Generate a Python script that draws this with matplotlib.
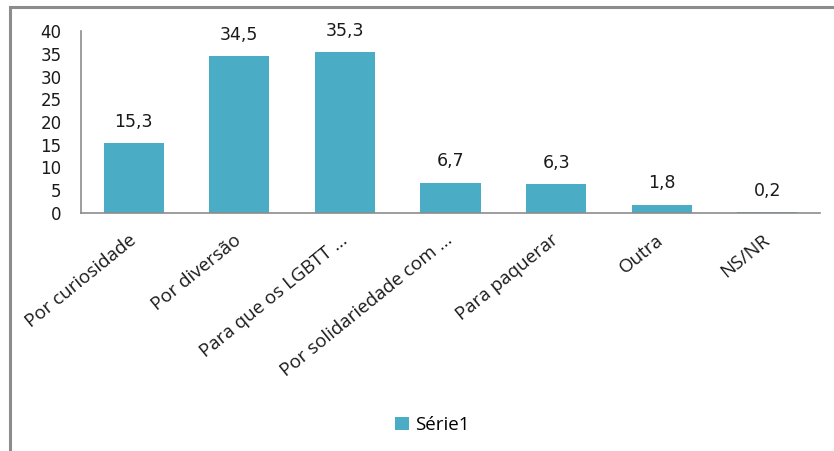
import matplotlib
matplotlib.use("Agg")
import matplotlib.pyplot as plt
import matplotlib.patches as pat

# chart data
categories = ["Por curiosidade", "Por diversão", "Para que os LGBTT ...",
              "Por solidariedade com ...", "Para paquerar", "Outra", "NS/NR"]
values = [15.3, 34.5, 35.3, 6.7, 6.3, 1.8, 0.2]
y_ticks = [0, 5, 10, 15, 20, 25, 30, 35, 40]
series_name = "Série1"

# drawing setting
bar_color = "#4BACC6"
axis_color = "#8c8c8c"
label_font = ["Open Sans", "DejaVu Sans"]

fig = plt.figure(figsize=(8.34, 4.51), dpi=100)
ax = fig.add_axes([81 / 834, 1 - 213 / 451, (820 - 81) / 834, (213 - 31) / 451])

x = list(range(len(categories)))
bars = ax.bar(x, values, width=0.57, color=bar_color, label=series_name)

# value labels above each bar, with comma decimal
for rect, v in zip(bars, values):
    ax.annotate(f"{v:.1f}".replace(".", ","),
                xy=(rect.get_x() + rect.get_width() / 2, rect.get_height()),
                xytext=(0, 9), textcoords="offset points",
                ha="center", va="bottom", fontsize=12.5, color="#1a1a1a")

ax.set_xlim(-0.5, len(categories) - 0.5)
ax.set_ylim(0, 40)
ax.set_yticks(y_ticks)
ax.set_yticklabels([str(t) for t in y_ticks], fontsize=12, color="#1a1a1a")
ax.set_xticks(x)
ax.set_xticklabels(categories, rotation=39, ha="right", va="center",
                   rotation_mode="anchor", fontsize=13.5, family=label_font,
                   color="#1a1a1a")
ax.tick_params(axis="y", length=0, pad=14)
ax.tick_params(axis="x", length=0, pad=18)

for side in ["top", "right"]:
    ax.spines[side].set_visible(False)
for side in ["left", "bottom"]:
    ax.spines[side].set_color(axis_color)
    ax.spines[side].set_linewidth(1.2)

leg = ax.legend(loc="center", bbox_to_anchor=(432 / 834, 1 - 425 / 451),
                bbox_transform=fig.transFigure, frameon=False,
                handlelength=0.75, handleheight=0.75, handletextpad=0.3,
                prop={"family": label_font, "size": 13.5})

# outer chart frame (right and bottom edges are cut off in the reference)
frame = pat.Rectangle((10 / 834, -0.1), 1.2, 1.1 - 7 / 451,
                      transform=fig.transFigure, fill=False,
                      edgecolor=axis_color, linewidth=2.2)
fig.add_artist(frame)

plt.savefig("out.png", dpi=100)
